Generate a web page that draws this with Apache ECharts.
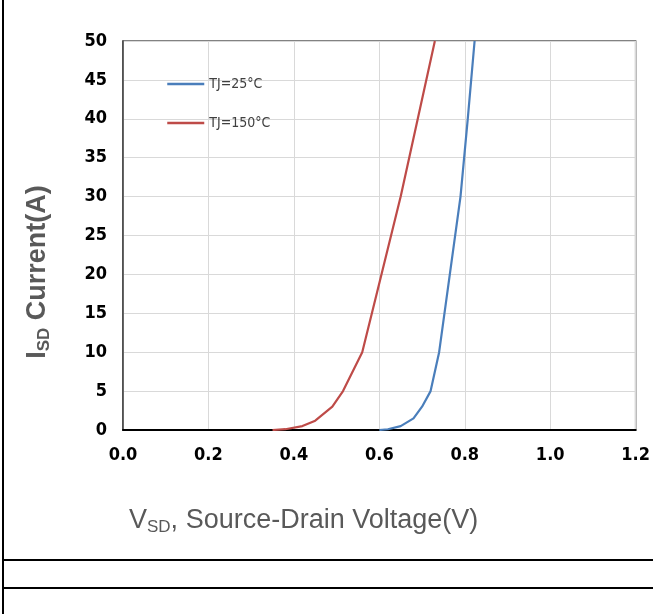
<!DOCTYPE html>
<html>
<head>
<meta charset="UTF-8">
<title>Diode forward characteristics</title>
<script src="https://cdn.jsdelivr.net/npm/echarts@6/dist/echarts.min.js"></script>
<style>
  html, body { margin: 0; padding: 0; background: #fff; }
  #chart { width: 653px; height: 614px; }
</style>
</head>
<body>
<div id="chart"></div>
<script>
// data
const vsd25 = [0.60, 0.62, 0.65, 0.68, 0.70, 0.72, 0.74, 0.765, 0.79, 0.807, 0.823];
const isd25 = [0, 0.1, 0.5, 1.5, 3, 5, 10, 20, 30, 40, 50];
const vsd150 = [0.35, 0.38, 0.42, 0.45, 0.49, 0.515, 0.56, 0.605, 0.65, 0.69, 0.73];
const isd150 = [0, 0.1, 0.5, 1.2, 3, 5, 10, 20, 30, 40, 50];
const seriesNames = ['TJ=25°C', 'TJ=150°C'];
const seriesColors = ['#4a7ebb', '#be4b48'];

const narrow = '"Liberation Sans Narrow", "Arial Narrow", "DejaVu Sans Condensed", sans-serif';
const plain = '"Liberation Sans", Arial, sans-serif';

function pairs(xs, ys) {
  return xs.map((x, i) => [x, ys[i]]);
}

const chart = echarts.init(document.getElementById('chart'));
chart.setOption({
  animation: false,
  grid: {
    left: 123, top: 41, right: 16, bottom: 184,
    show: true, borderColor: '#595959', borderWidth: 1.5
  },
  legend: {
    orient: 'vertical',
    left: 161, top: 72,
    itemWidth: 37, itemHeight: 14, itemGap: 25,
    itemStyle: { opacity: 0 },
    lineStyle: { width: 2.5 },
    textStyle: { fontFamily: narrow, fontSize: 14, color: '#404040' },
    data: seriesNames
  },
  xAxis: {
    type: 'value', min: 0, max: 1.2, interval: 0.2,
    axisLine: { lineStyle: { color: '#000', width: 2 } },
    axisTick: { show: false },
    axisLabel: {
      margin: 16, fontFamily: narrow, fontSize: 18, fontWeight: 'bold', color: '#000',
      formatter: v => v.toFixed(1)
    },
    splitLine: { lineStyle: { color: '#d9d9d9', width: 1 } }
  },
  yAxis: {
    type: 'value', min: 0, max: 50, interval: 5,
    axisLine: { show: true, lineStyle: { color: '#404040', width: 1.5 } },
    axisTick: { show: false },
    axisLabel: { margin: 16, fontFamily: narrow, fontSize: 18, fontWeight: 'bold', color: '#000' },
    splitLine: { lineStyle: { color: '#d9d9d9', width: 1 } }
  },
  series: [
    {
      name: seriesNames[0], type: 'line', symbol: 'none',
      lineStyle: { color: seriesColors[0], width: 2.2 },
      itemStyle: { color: seriesColors[0] },
      data: pairs(vsd25, isd25)
    },
    {
      name: seriesNames[1], type: 'line', symbol: 'none',
      lineStyle: { color: seriesColors[1], width: 2.2 },
      itemStyle: { color: seriesColors[1] },
      data: pairs(vsd150, isd150)
    }
  ],
  graphic: [
    // y axis title
    {
      type: 'text', x: 38, y: 272, rotation: Math.PI / 2,
      style: {
        text: '{b|I}{s|SD}{b| Current(A)}',
        align: 'center', verticalAlign: 'middle',
        rich: {
          b: { fontFamily: plain, fontSize: 27, fontWeight: 'bold', fill: '#595959' },
          s: { fontFamily: plain, fontSize: 17, fontWeight: 'bold', fill: '#595959', padding: [12, 0, 0, 0] }
        }
      }
    },
    // x axis title
    {
      type: 'text', x: 129, y: 521,
      style: {
        text: '{n|V}{s|SD}{n|, Source-Drain Voltage(V)}',
        verticalAlign: 'middle',
        rich: {
          n: { fontFamily: plain, fontSize: 27, fill: '#595959' },
          s: { fontFamily: plain, fontSize: 17, fill: '#595959', padding: [12, 0, 0, 0] }
        }
      }
    },
    // outer frame lines
    { type: 'line', shape: { x1: 3, y1: 0, x2: 3, y2: 614 }, style: { stroke: '#000', lineWidth: 2 } },
    { type: 'line', shape: { x1: 3, y1: 560, x2: 653, y2: 560 }, style: { stroke: '#000', lineWidth: 2 } },
    { type: 'line', shape: { x1: 3, y1: 588, x2: 653, y2: 588 }, style: { stroke: '#000', lineWidth: 2 } }
  ]
});
</script>
</body>
</html>
